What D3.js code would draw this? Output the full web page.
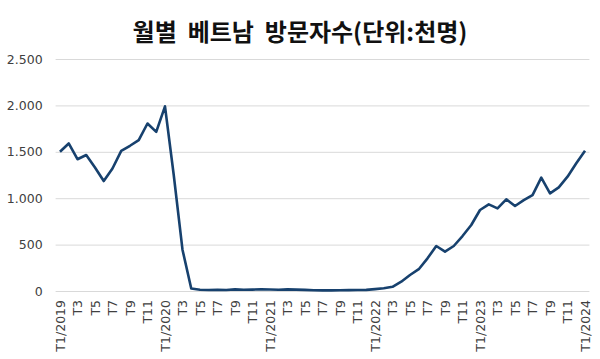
<!DOCTYPE html>
<html>
<head>
<meta charset="utf-8">
<script src="https://cdn.jsdelivr.net/npm/d3@7"></script>
<style>
  body { margin: 0; background: #fff; }
  svg { display: block; }
</style>
</head>
<body>
<div id="chart"></div>
<script>
// Dữ liệu: lượt khách quốc tế đến Việt Nam theo tháng (nghìn lượt)
const months = [];
for (let yr = 2019; yr <= 2024; yr++) {
  for (let m = 1; m <= 12; m++) {
    if (yr === 2024 && m > 1) break;
    months.push(m === 1 ? `T1/${yr}` : `T${m}`);
  }
}

const visitors2019 = [1500, 1590, 1420, 1465, 1330, 1185, 1320, 1510, 1565, 1625, 1805, 1715];
const visitors2020 = [1990, 1250, 445, 27, 14, 10, 12, 11, 17, 13, 15, 18];
const visitors2021 = [16, 14, 17, 15, 12, 8, 7, 7, 8, 9, 10, 12];
const visitors2022 = [20, 30, 45, 100, 172, 235, 352, 485, 424, 485, 592, 711];
const visitors2023 = [873, 934, 891, 988, 916, 980, 1034, 1221, 1052, 1117, 1232, 1376];
const visitors2024 = [1512];
const values = [].concat(visitors2019, visitors2020, visitors2021, visitors2022, visitors2023, visitors2024);

const yTicks = [0, 500, 1000, 1500, 2000, 2500];
const title = "월별  베트남  방문자수(단위:천명)";

const W = 600, H = 359;
const plotLeft = 55.6, plotRight = 589.4, plotTop = 59, plotBottom = 291;

const svg = d3.select("#chart").append("svg")
  .attr("width", W)
  .attr("height", H);

const x = d3.scalePoint()
  .domain(d3.range(months.length))
  .range([plotLeft, plotRight])
  .padding(0.5);

const y = d3.scaleLinear()
  .domain([0, 2500])
  .range([plotBottom, plotTop]);

// Tiêu đề
svg.append("text")
  .attr("x", 300)
  .attr("y", 41)
  .attr("text-anchor", "middle")
  .attr("font-family", "'Noto Sans CJK KR', sans-serif")
  .attr("font-weight", "bold")
  .attr("font-size", 24)
  .attr("fill", "#111")
  .attr("xml:space", "preserve")
  .style("white-space", "pre")
  .text(title);

// Lưới ngang + nhãn trục Y
const yAxis = svg.append("g")
  .attr("transform", `translate(${plotLeft},0)`)
  .call(d3.axisLeft(y).tickValues(yTicks)
    .tickSize(-(plotRight - plotLeft))
    .tickPadding(13)
    .tickFormat(d => d3.format(",")(d).replace(/,/g, ".")));
yAxis.select(".domain").remove();
yAxis.selectAll(".tick line").attr("stroke", "#d9d9d9").attr("stroke-width", 1);
yAxis.selectAll(".tick text")
  .attr("font-family", "'DejaVu Sans', sans-serif")
  .attr("font-size", 12.5)
  .attr("fill", "#404040");

// Nhãn trục X (mỗi 2 tháng)
const xAxis = svg.append("g")
  .attr("transform", `translate(0,${plotBottom})`)
  .call(d3.axisBottom(x)
    .tickValues(d3.range(0, months.length, 2))
    .tickSize(0)
    .tickFormat(i => months[i]));
xAxis.select(".domain").remove();
xAxis.selectAll(".tick text")
  .attr("font-family", "'DejaVu Sans', sans-serif")
  .attr("font-size", 12.5)
  .attr("fill", "#404040")
  .attr("text-anchor", "end")
  .attr("transform", "rotate(-90)")
  .attr("x", -9)
  .attr("y", 0)
  .attr("dy", "0.35em");

// Đường dữ liệu
const line = d3.line()
  .x((d, i) => x(i))
  .y(d => y(d));

svg.append("path")
  .datum(values)
  .attr("fill", "none")
  .attr("stroke", "#17416e")
  .attr("stroke-width", 2.6)
  .attr("stroke-linejoin", "round")
  .attr("d", line);
</script>
</body>
</html>
